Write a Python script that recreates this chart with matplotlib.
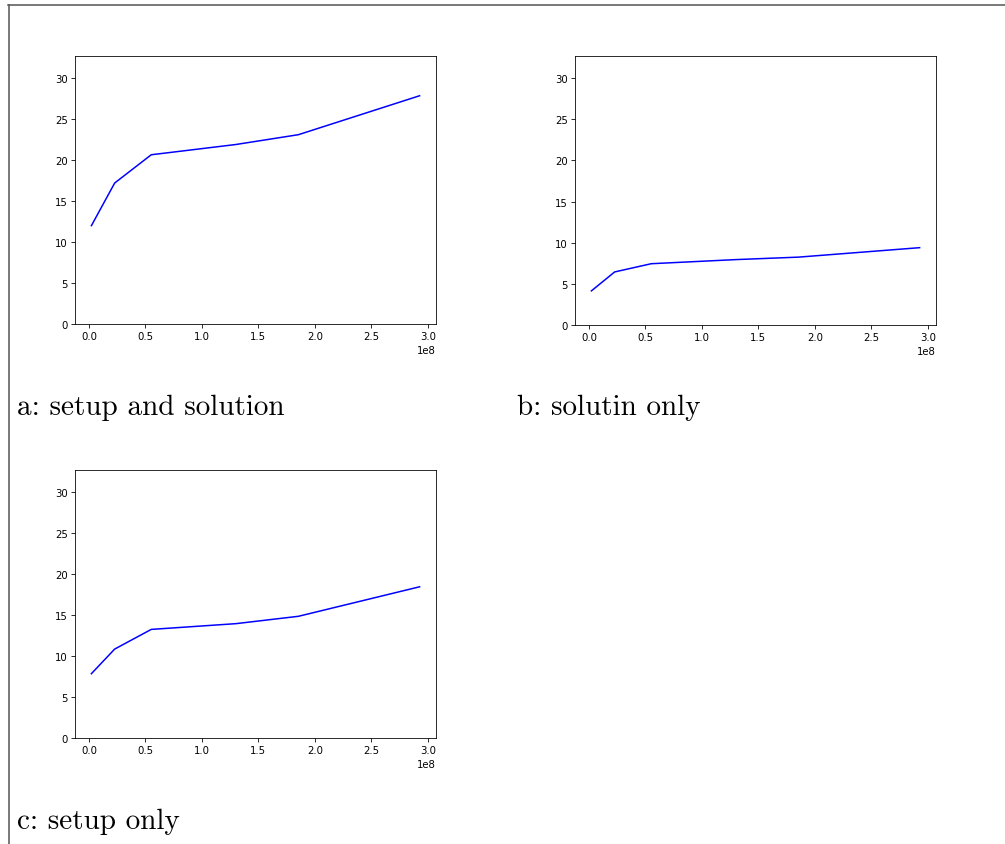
import matplotlib
matplotlib.use("Agg")
import matplotlib.pyplot as plt
from matplotlib.lines import Line2D

# -------- data (x in units of 1e8) --------
sizes = [0.021e8, 0.227e8, 0.551e8, 1.30e8, 1.855e8, 2.928e8]
setup_and_solution = [12.0, 17.2, 20.65, 21.9, 23.1, 27.85]
solution_only = [4.15, 6.45, 7.45, 7.95, 8.25, 9.4]
setup_only = [7.85, 10.85, 13.25, 13.95, 14.85, 18.45]

captions = ["a: setup and solution", "b: solutin only", "c: setup only"]

W, H = 1005, 845
S = 0.728  # the embedded plots are scaled down

plt.rcParams.update({
    "font.size": 10 * S,
    "axes.linewidth": 0.8 * S,
    "xtick.major.size": 3.5 * S,
    "ytick.major.size": 3.5 * S,
    "xtick.major.width": 0.8 * S,
    "ytick.major.width": 0.8 * S,
    "xtick.major.pad": 3.5 * S,
    "ytick.major.pad": 3.5 * S,
})

fig = plt.figure(figsize=(W / 100, H / 100), dpi=100)


def px_axes(left, top, right, bottom):
    return fig.add_axes([left / W, 1 - bottom / H, (right - left) / W, (bottom - top) / H])


# -------- panels --------
panels = [
    (px_axes(75, 57, 436, 325), setup_and_solution, captions[0], (17, 415)),
    (px_axes(575, 57, 936, 326), solution_only, captions[1], (517, 415)),
    (px_axes(75, 471, 436, 739), setup_only, captions[2], (17, 829)),
]

for ax, ys, cap, (cx, cy) in panels:
    ax.plot(sizes, ys, color="b", linewidth=1.5 * S)
    ax.set_ylim(0, 32.7)
    ax.set_yticks([0, 5, 10, 15, 20, 25, 30])
    fig.text(cx / W, 1 - cy / H, cap, family="cmr10", fontsize=21,
             ha="left", va="baseline")

# -------- page frame (left and top rules) --------
frame_color = "#555555"
fig.add_artist(Line2D([8.5 / W, 8.5 / W], [0, 1 - 5.5 / H],
                      color=frame_color, linewidth=1.1))
fig.add_artist(Line2D([8 / W, 1], [1 - 5.5 / H, 1 - 5.5 / H],
                      color=frame_color, linewidth=1.1))

fig.savefig("out.png", dpi=100)
